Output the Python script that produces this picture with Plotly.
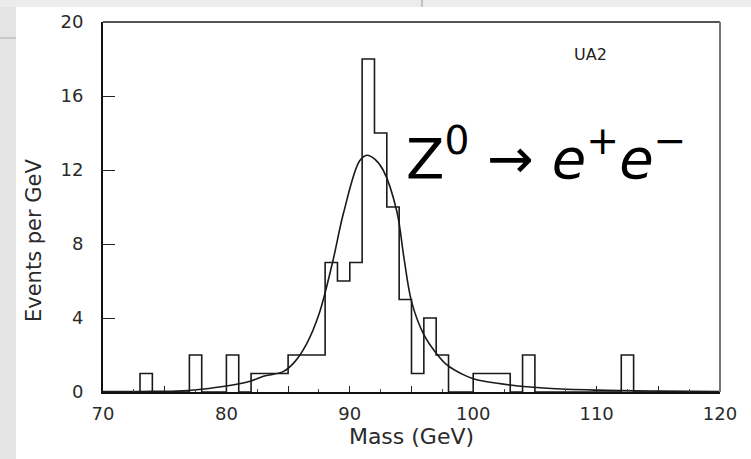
import plotly.graph_objects as go

# ---- data ----
bin_edges = list(range(70, 121))  # 1 GeV bins, 70..120
counts = [0, 0, 0, 1, 0, 0, 0, 2, 0, 0,      # 70-79
          2, 0, 1, 1, 1, 2, 2, 2, 7, 6,      # 80-89
          7, 18, 14, 10, 5, 1, 4, 2, 0, 0,   # 90-99
          1, 1, 1, 0, 2, 0, 0, 0, 0, 0,      # 100-109
          0, 0, 2, 0, 0, 0, 0, 0, 0, 0]      # 110-119

fit_mass = [70, 73, 76, 78, 80, 82, 83, 84.6, 85.5, 86.5, 87.5, 88.6, 89.5, 90.8,
            91.4, 92.0, 92.7, 93.8, 94.4, 95.0, 96.0, 97.0, 97.9, 99.0, 100, 103,
            106, 110, 115, 120]
fit_events = [0.02, 0.03, 0.05, 0.15, 0.32, 0.6, 0.85, 1.1, 1.6, 2.6, 4.2, 7.0, 9.7, 12.5,
              12.8, 12.6, 12.0, 9.8, 7.2, 4.9, 3.1, 2.1, 1.45, 1.0, 0.72, 0.38,
              0.2, 0.1, 0.05, 0.03]

x_ticks = [70, 75, 80, 85, 90, 95, 100, 105, 110, 115, 120]
x_ticklabels = ["70", "", "80", "", "90", "", "100", "", "110", "", "120"]
y_ticks = [0, 4, 8, 12, 16, 20]

W, H = 751, 459
L, R, T, B = 103, 31, 22, 67

def px(xp):
    return (xp - L) / (W - L - R)

def py(yp):
    return 1 - (yp - T) / (H - T - B)

FONT = "DejaVu Sans, Liberation Sans, sans-serif"
TXT = "#2a2a2a"

fig = go.Figure()

step_y = counts + [counts[-1]]
fig.add_trace(go.Scatter(x=bin_edges, y=step_y, mode="lines", line_shape="hv",
                         line=dict(color="#1a1a1a", width=1.6), showlegend=False))
fig.add_trace(go.Scatter(x=fit_mass, y=fit_events, mode="lines", line_shape="spline",
                         line=dict(color="#1a1a1a", width=1.6), showlegend=False))

fig.update_xaxes(range=[70, 120], tickmode="array", tickvals=x_ticks, ticktext=x_ticklabels,
                 ticks="inside", ticklen=6, tickwidth=1.3, tickcolor="#222",
                 minor=dict(dtick=2.5, tick0=70, ticks="inside", ticklen=3, tickcolor="#444"),
                 showgrid=False, zeroline=False, showline=True, linecolor="#111", linewidth=2,
                 tickfont=dict(family=FONT, size=18, color=TXT), ticklabelstandoff=4,
                 title=dict(text="Mass (GeV)", font=dict(family=FONT, size=22, color=TXT),
                            standoff=6))
fig.update_yaxes(range=[0, 20], tickmode="array", tickvals=y_ticks,
                 ticks="inside", ticklen=12, tickwidth=1.3, tickcolor="#222",
                 showgrid=False, zeroline=False, showline=True, linecolor="#111", linewidth=2,
                 tickfont=dict(family=FONT, size=18, color=TXT), ticklabelstandoff=14)

shapes = [
    # top and right frame lines (greyish)
    dict(type="line", xref="paper", yref="paper", x0=0, x1=1, y0=1, y1=1,
         line=dict(color="#555", width=2)),
    dict(type="line", xref="paper", yref="paper", x0=1, x1=1, y0=0, y1=1,
         line=dict(color="#777", width=2)),
    # slide background stripes
    dict(type="rect", xref="paper", yref="paper", x0=px(0), x1=px(16), y0=py(H), y1=py(0),
         fillcolor="#e4e4e4", line=dict(width=0), layer="below"),
    dict(type="rect", xref="paper", yref="paper", x0=px(0), x1=px(W), y0=py(7), y1=py(0),
         fillcolor="#ececec", line=dict(width=0), layer="below"),
    dict(type="line", xref="paper", yref="paper", x0=px(0), x1=px(16), y0=py(38), y1=py(38),
         line=dict(color="#c8c8c8", width=2)),
    dict(type="line", xref="paper", yref="paper", x0=px(422), x1=px(422), y0=py(7), y1=py(0),
         line=dict(color="#c0c0c0", width=2)),
]

annotations = [
    dict(text="Events per GeV", x=px(34), y=py(240), xref="paper", yref="paper",
         showarrow=False, textangle=-90, xanchor="center", yanchor="middle",
         font=dict(family=FONT, size=21, color=TXT)),
    dict(text="UA2", x=px(590), y=py(55), xref="paper", yref="paper", showarrow=False,
         xanchor="center", yanchor="middle",
         font=dict(family=FONT, size=16, color="#222")),
    dict(text="Z<sup>0</sup> → <i>e</i><sup>+</sup><i>e</i><sup>−</sup>",
         x=px(546), y=py(154), xref="paper", yref="paper", showarrow=False,
         xanchor="center", yanchor="middle",
         font=dict(family=FONT, size=56, color="#000")),
]

fig.update_layout(width=W, height=H, margin=dict(l=L, r=R, t=T, b=B),
                  paper_bgcolor="white", plot_bgcolor="white",
                  shapes=shapes, annotations=annotations, showlegend=False)

fig.write_html("out.html", config={"displayModeBar": False},
               post_script="document.body.style.margin='0';")
